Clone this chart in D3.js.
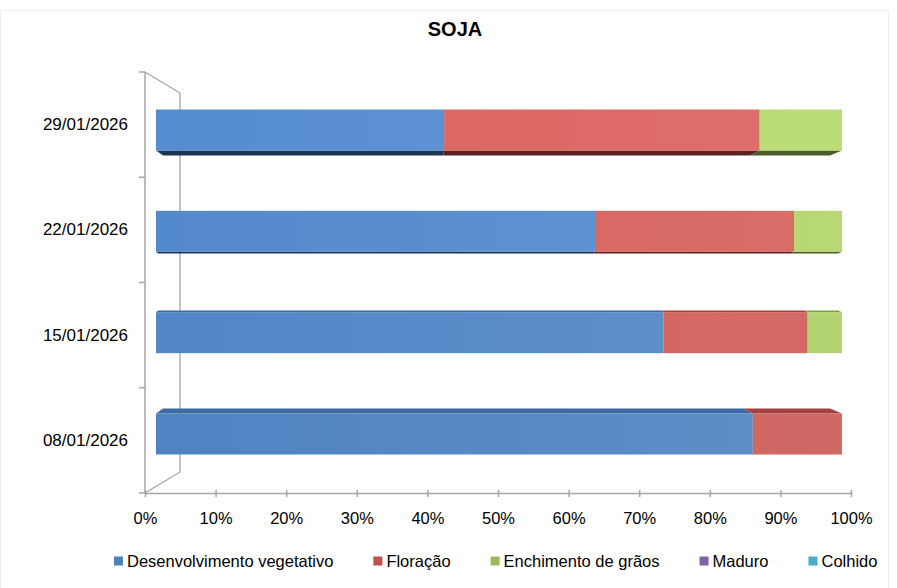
<!DOCTYPE html>
<html>
<head>
<meta charset="utf-8">
<script src="https://cdn.jsdelivr.net/npm/d3@7"></script>
<style>
  html, body { margin: 0; padding: 0; background: #fff; }
  svg { display: block; font-family: "Liberation Sans", Arial, sans-serif; }
</style>
</head>
<body>
<svg id="chart" width="897" height="588"></svg>
<script>
// ---- DATA ----
const categories = ["29/01/2026", "22/01/2026", "15/01/2026", "08/01/2026"];
const seriesNames = ["Desenvolvimento vegetativo", "Floração", "Enchimento de grãos", "Maduro", "Colhido"];
const desenvolvimento = [42, 64, 74, 87];
const floracao = [46, 29, 21, 13];
const enchimento = [12, 7, 5, 0];
const maduro = [0, 0, 0, 0];
const colhido = [0, 0, 0, 0];
const xTickValues = [0, 10, 20, 30, 40, 50, 60, 70, 80, 90, 100];
const title = "SOJA";

const seriesColors = ["#4F81BD", "#C0504D", "#9BBB59", "#8064A2", "#4BACC6"];
const frontColors = ["#4f83c2", "#cb5955", "#a7c962", "#8064A2", "#4BACC6"];
const bottomColors = ["#1e3656", "#5c2221", "#4a5e2a", "#3a2d4a", "#1f4d59"];
const topColors = ["#3d6aa2", "#a3413e", "#7f9c48", "#66508a", "#3a8ea6"];

const svg = d3.select("#chart");

// faint frame
svg.append("rect").attr("x", 0.5).attr("y", 10.5).attr("width", 888).attr("height", 600)
  .attr("fill", "none").attr("stroke", "#f0f0f0");

// title
svg.append("text").attr("x", 455).attr("y", 36).attr("text-anchor", "middle")
  .attr("font-size", 20).attr("font-weight", "bold").attr("fill", "#000").text(title);

// ---- scales ----
const xAxisScale = d3.scaleLinear().domain([0, 100]).range([145, 851]);   // front axis plane
const xBar = d3.scaleLinear().domain([0, 100]).range([156, 842]);         // bar front faces
const yAxisBand = d3.scaleBand().domain(categories).range([72, 493]);    // front axis plane
const yBar = d3.scalePoint().domain(categories).range([130, 434]);       // bar centers
const barH = 41;
const eyeY = 282;

// ---- walls ----
const wallColor = "#a6a6a6";
const g = svg.append("g");
const backTop = 93, backBottom = 472, backX = 180;
g.append("path")
  .attr("d", `M${xAxisScale(0)},${yAxisBand.range()[0]} L${backX},${backTop} L${backX},${backBottom} L${xAxisScale(0)},${yAxisBand.range()[1]}`)
  .attr("fill", "none").attr("stroke", wallColor).attr("stroke-width", 1.3);

g.append("line").attr("x1", xAxisScale(0)).attr("x2", xAxisScale(0))
  .attr("y1", yAxisBand.range()[0]).attr("y2", yAxisBand.range()[1])
  .attr("stroke", wallColor).attr("stroke-width", 1.5);
const bounds = categories.map(c => yAxisBand(c)).concat([yAxisBand.range()[1]]);
g.selectAll(".ytick").data(bounds).join("line")
  .attr("x1", xAxisScale(0) - 6).attr("x2", xAxisScale(0))
  .attr("y1", d => d).attr("y2", d => d)
  .attr("stroke", wallColor).attr("stroke-width", 1.5);

// y labels
const yAxis = d3.axisLeft(yAxisBand).tickSize(0).tickPadding(17);
const yG = svg.append("g").attr("transform", `translate(${xAxisScale(0)},0)`).call(yAxis);
yG.select(".domain").remove();
yG.selectAll("text").attr("font-size", 17).attr("fill", "#000")
  .attr("font-family", '"Liberation Sans", Arial, sans-serif');

// x axis
const xAxis = d3.axisBottom(xAxisScale).tickValues(xTickValues).tickFormat(d => d + "%").tickSize(4).tickSizeOuter(0);
const xG = svg.append("g").attr("transform", `translate(0,${yAxisBand.range()[1]})`).call(xAxis);
xG.select(".domain").attr("stroke", wallColor).attr("stroke-width", 1.5);
xG.selectAll(".tick line").attr("stroke", wallColor).attr("stroke-width", 1.5).attr("y1", -3).attr("y2", 4);
xG.selectAll(".tick text").attr("font-size", 16.5).attr("fill", "#000").attr("y", 19)
  .attr("font-family", '"Liberation Sans", Arial, sans-serif');

// ---- bars ----
const defs = svg.append("defs");
const sheen = defs.append("linearGradient").attr("id", "sheen").attr("x1", 0).attr("x2", 1).attr("y1", 0).attr("y2", 0);
sheen.append("stop").attr("offset", "0").attr("stop-color", "#fff").attr("stop-opacity", 0.0);
sheen.append("stop").attr("offset", "1").attr("stop-color", "#fff").attr("stop-opacity", 0.1);

const seriesValues = [desenvolvimento, floracao, enchimento, maduro, colhido];
const stackData = categories.map((c, i) => {
  const o = { cat: c };
  seriesNames.forEach((s, k) => o[s] = seriesValues[k][i]);
  return o;
});
const stacked = d3.stack().keys(seriesNames)(stackData);

const x0 = xBar.range()[0], x1 = xBar.range()[1];
function backXof(x, f) {
  return x + f * (7 - 19 * (x - x0) / (x1 - x0));
}

const barsG = svg.append("g");
categories.forEach((cat, ci) => {
  const cy = yBar(cat);
  const top = cy - barH / 2, bot = cy + barH / 2;
  const dy = -(cy - eyeY) * 5 / 152;
  const f = Math.abs(dy) / 5;
  const bright = (3 - ci) * 0.07;
  const bg = barsG.append("g");
  stacked.forEach((layer, k) => {
    const d = layer[ci];
    if (d[1] - d[0] <= 0) return;
    const a = xBar(d[0]), b = xBar(d[1]);
    if (dy > 0) {
      bg.append("path")
        .attr("d", `M${a},${bot} L${b},${bot} L${backXof(b, f)},${bot + dy} L${backXof(a, f)},${bot + dy} Z`)
        .attr("fill", bottomColors[k]);
    } else {
      bg.append("path")
        .attr("d", `M${a},${top} L${b},${top} L${backXof(b, f)},${top + dy} L${backXof(a, f)},${top + dy} Z`)
        .attr("fill", topColors[k]);
    }
    bg.append("rect").attr("x", a).attr("y", top).attr("width", b - a).attr("height", barH)
      .attr("fill", d3.color(frontColors[k]).brighter(bright).formatHex());
  });
  bg.append("rect").attr("x", x0).attr("y", top).attr("width", x1 - x0).attr("height", barH)
    .attr("fill", "url(#sheen)");
});

// ---- legend ----
const legendY = 561;
const legG = svg.append("g");
let lx = 114;
seriesNames.forEach((name, k) => {
  legG.append("rect").attr("x", lx).attr("y", legendY - 4.5).attr("width", 9).attr("height", 9)
    .attr("fill", seriesColors[k]);
  const t = legG.append("text").attr("x", lx + 13).attr("y", legendY).attr("dy", "0.35em")
    .attr("font-size", 16.5).attr("fill", "#000").text(name);
  const w = t.node().getComputedTextLength();
  lx += 13 + w + 40;
});
</script>
</body>
</html>
